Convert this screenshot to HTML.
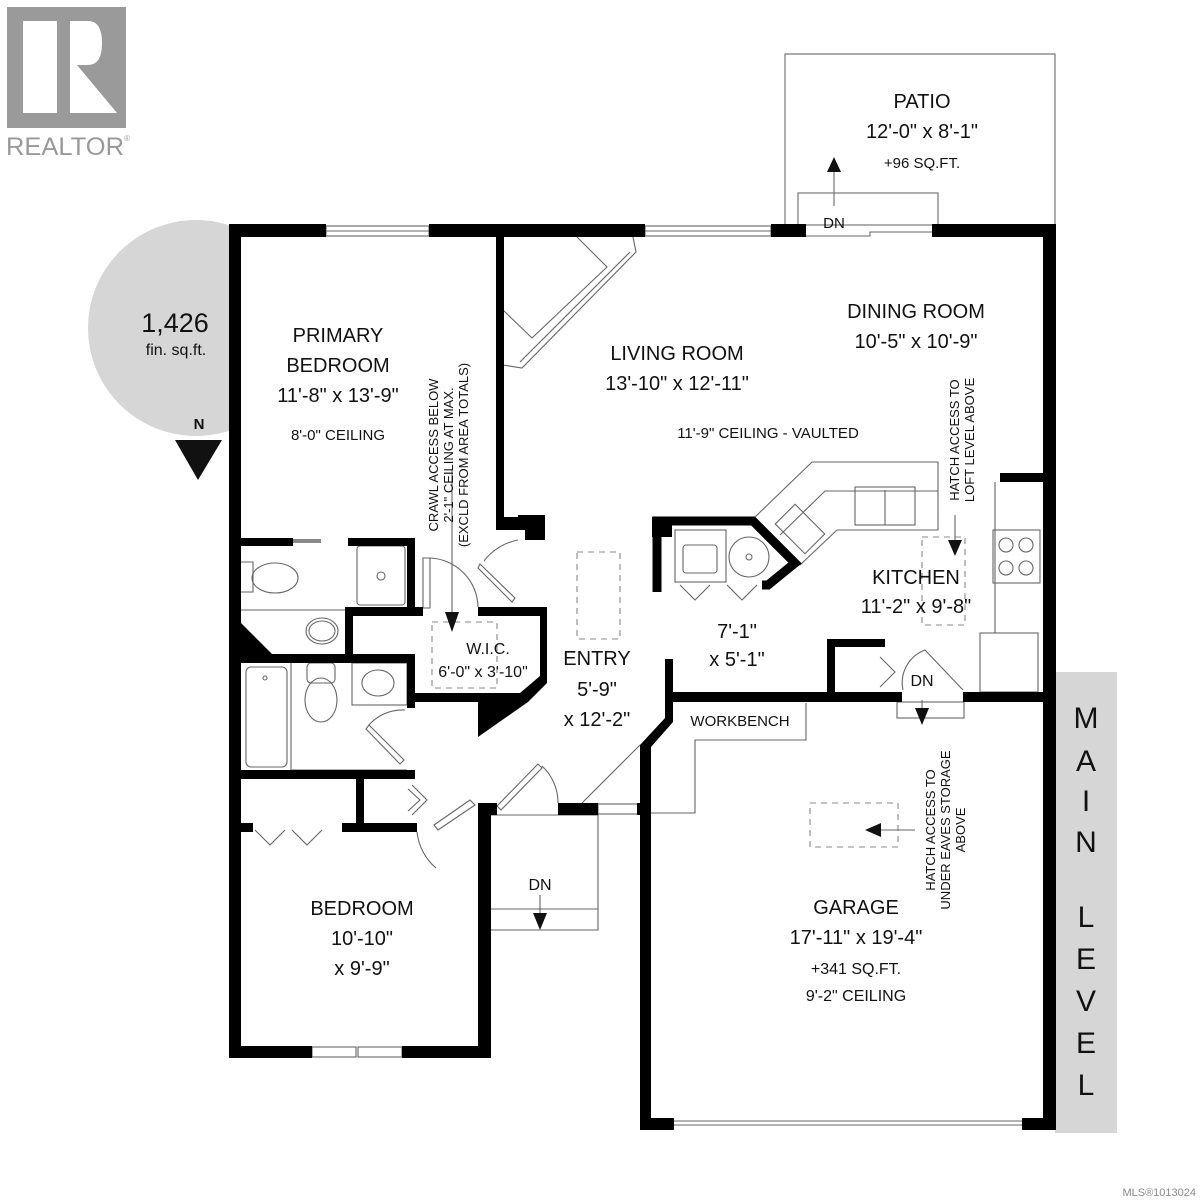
<!DOCTYPE html>
<html><head><meta charset="utf-8"><style>
html,body{margin:0;padding:0;background:#fff;}
svg{display:block;}
text{font-family:"Liberation Sans",sans-serif;fill:#111;}
</style></head><body>
<svg width="1200" height="1200" viewBox="0 0 1200 1200" xmlns="http://www.w3.org/2000/svg">
<!-- logo -->
<rect x="7" y="7" width="119" height="121" fill="#9a9a9a"/>
<rect x="23" y="21" width="34" height="92" fill="#fff"/>
<path d="M70 21 H88 Q102 21 102 43 Q102 65 88 65 H77 L117 113 H70 Z" fill="#fff"/>
<text x="6" y="155" font-size="25" style="fill:#999" textLength="118" lengthAdjust="spacingAndGlyphs">REALTOR</text>
<text x="124" y="141" font-size="8" style="fill:#999">®</text>

<!-- compass -->
<clipPath id="cl"><rect x="0" y="0" width="229" height="600"/></clipPath>
<circle cx="196" cy="328" r="108" fill="#d6d6d6" clip-path="url(#cl)"/>
<text x="175" y="332" font-size="27" text-anchor="middle">1,426</text>
<text x="176" y="355" font-size="16" text-anchor="middle">fin. sq.ft.</text>
<text x="199" y="429" font-size="15" font-weight="bold" text-anchor="middle">N</text>
<polygon points="175,440 222,440 198,480" fill="#111"/>

<!-- MAIN LEVEL strip -->
<rect x="1055" y="672" width="62" height="461" fill="#d6d6d6"/>
<g font-size="30" text-anchor="middle">
<text x="1086" y="728">M</text><text x="1086" y="771">A</text><text x="1086" y="811">I</text><text x="1086" y="852">N</text>
<text x="1086" y="927">L</text><text x="1086" y="969">E</text><text x="1086" y="1011">V</text><text x="1086" y="1053">E</text><text x="1086" y="1095">L</text>
</g>

<!-- patio -->
<g fill="none" stroke="#777" stroke-width="1.2">
<path d="M785 225 V54 H1055 V225"/>
<rect x="798" y="193" width="140" height="32"/>
<line x1="834" y1="206" x2="834" y2="170"/>
</g>
<polygon points="827,172 841,172 834,157" fill="#111"/>

<!-- thin fixtures -->
<g fill="none" stroke="#666" stroke-width="1.1">
<!-- windows -->
<rect x="326" y="226" width="103" height="10"/><line x1="326" y1="231" x2="429" y2="231"/>
<rect x="645" y="226" width="126" height="10"/><line x1="645" y1="231" x2="771" y2="231"/>
<path d="M806 236 H870 V232 H932"/>
<rect x="312" y="1047" width="44" height="10"/><rect x="358" y="1047" width="44" height="10"/>
<rect x="598" y="804" width="40" height="10"/>
<line x1="674" y1="1121" x2="1022" y2="1121"/><line x1="674" y1="1125" x2="1022" y2="1125"/>
<!-- fireplace -->
<path d="M503 310 L532 338 L607 267 L577 237"/>
<path d="M503 365 L522 368 L636 252 L633 237"/>
<path d="M520 362 L630 252"/>
<!-- bath fixtures -->
<line x1="293" y1="541" x2="321" y2="541" stroke-width="4" stroke="#888"/>
<rect x="357" y="546" width="48" height="59" rx="3"/><circle cx="381" cy="576" r="4"/>
<path d="M241 562 H253 V592 H241"/><ellipse cx="275" cy="578" rx="23" ry="15"/>
<line x1="241" y1="610" x2="345" y2="610"/>
<ellipse cx="322" cy="631" rx="16" ry="13"/><ellipse cx="322" cy="631" rx="13" ry="10"/>
<rect x="246" y="667" width="41" height="100" rx="5"/><circle cx="265" cy="678" r="2"/>
<line x1="291" y1="663" x2="291" y2="770"/>
<rect x="307" y="663" width="28" height="20" rx="4"/><ellipse cx="321" cy="700" rx="16" ry="22"/>
<rect x="352" y="663" width="55" height="42"/><ellipse cx="378" cy="683" rx="16" ry="13"/>
<line x1="291" y1="770" x2="407" y2="770"/>
<!-- doors -->
<path d="M423 558 L430 558 L430 608 L423 608 Z"/><path d="M430 558 A50 50 0 0 1 478 607"/>
<path d="M480 564 L515 598 L512 602 L478 568 Z"/><path d="M484 561 A55 55 0 0 1 518 540"/>
<path d="M369 725 L404 760 L400 764 L366 729 Z"/><path d="M369 725 A45 45 0 0 1 405 710"/>
<path d="M412 785 L427 800 L412 815 M408 789 L420 800 L408 811"/>
<path d="M434 825 L470 800 L475 805 L438 830 Z" /><path d="M417 832 A55 55 0 0 0 436 868"/>
<path d="M497 806 L538 764 L542 768 L501 810 Z"/><path d="M542 766 A50 50 0 0 1 558 803"/>
<path d="M255 830 L270 845 L285 830 M292 830 L307 845 L322 830"/>
<line x1="582" y1="803" x2="640" y2="745"/>
<!-- entry stair -->
<path d="M491 815 H598 V930 H491"/><line x1="491" y1="909" x2="598" y2="909"/>
<line x1="540" y1="895" x2="540" y2="915"/>
<!-- dashed -->
<g stroke-dasharray="6,5" stroke="#888">
<rect x="577" y="552" width="43" height="87"/>
<rect x="432" y="622" width="65" height="66"/>
<rect x="922" y="537" width="43" height="88"/>
<rect x="810" y="803" width="88" height="44"/>
</g>
<line x1="452" y1="470" x2="452" y2="615"/>
<line x1="955" y1="515" x2="955" y2="540"/>
<line x1="880" y1="830" x2="915" y2="830"/>
<line x1="922" y1="700" x2="922" y2="710"/>
<!-- laundry -->
<rect x="675" y="530" width="51" height="52"/><rect x="683" y="545" width="34" height="28" rx="3"/>
<circle cx="749" cy="557" r="20"/><circle cx="749" cy="557" r="3"/>
<path d="M680 585 L695 600 L710 585 M727 585 L742 600 L757 585"/>
<!-- counter -->
<path d="M755 517 L812 462 H938 V530 H837 L800 565 L770 540"/>
<path d="M780 535 L825 491 H938"/>
<rect x="786" y="508" width="28" height="42" transform="rotate(-45 800 529)"/>
<rect x="855" y="487" width="60" height="38"/><line x1="885" y1="490" x2="885" y2="525"/>
<rect x="993" y="530" width="47" height="53"/>
<circle cx="1006" cy="545" r="7"/><circle cx="1026" cy="545" r="7"/><circle cx="1006" cy="568" r="7"/><circle cx="1026" cy="568" r="7"/>
<line x1="995" y1="482" x2="995" y2="633"/>
<rect x="980" y="633" width="58" height="59"/>
<!-- kitchen stair -->
<path d="M880 657 L895 672 L880 687"/>
<path d="M903 690 A35 35 0 0 1 925 650 L963 690"/>
<rect x="897" y="702" width="67" height="16"/>
<!-- workbench -->
<path d="M806 703 V740 H695 V813 H651"/>
</g>
<polygon points="445,612 459,612 452,632" fill="#111"/>
<polygon points="948,540 962,540 955,556" fill="#111"/>
<polygon points="533,913 547,913 540,930" fill="#111"/>
<polygon points="915,708 929,708 922,725" fill="#111"/>
<polygon points="881,823 881,837 865,830" fill="#111"/>

<!-- walls -->
<g fill="#000">
<rect x="229" y="224" width="97" height="13"/>
<rect x="429" y="224" width="216" height="13"/>
<rect x="771" y="224" width="35" height="13"/>
<rect x="932" y="224" width="124" height="13"/>
<rect x="229" y="224" width="12" height="834"/>
<rect x="1043" y="224" width="13" height="906"/>
<rect x="229" y="1046" width="83" height="12"/><rect x="402" y="1046" width="89" height="12"/>
<rect x="478" y="803" width="13" height="255"/><rect x="478" y="803" width="19" height="12"/>
<rect x="558" y="803" width="40" height="12"/><rect x="637" y="803" width="14" height="12"/>
<rect x="496" y="237" width="8" height="286"/>
<polygon points="496,517 518,517 518,515 545,515 545,540 525,540 525,530 496,530"/>
<!-- bathroom -->
<rect x="241" y="538" width="52" height="8"/>
<rect x="348" y="538" width="67" height="8"/>
<rect x="407" y="538" width="8" height="70"/>
<rect x="345" y="607" width="78" height="9"/>
<rect x="345" y="607" width="8" height="55"/>
<rect x="241" y="654" width="174" height="9"/>
<polygon points="241,623 272,654 241,654"/>
<rect x="407" y="654" width="8" height="54"/>
<rect x="241" y="770" width="174" height="9"/>
<rect x="356" y="770" width="8" height="62"/>
<rect x="241" y="823" width="12" height="9"/><rect x="342" y="823" width="75" height="9"/>
<!-- wic -->
<rect x="478" y="607" width="69" height="9"/>
<polygon points="540,607 547,607 547,683 528,702 415,702 415,693 520,693 540,676"/>
<polygon points="478,702 528,702 478,737"/>
<!-- entry right / laundry -->
<rect x="665" y="659" width="8" height="44"/>
<path d="M657 592 V521 H753 L795 563 L768 585 H762" fill="none" stroke="#000" stroke-width="9"/>
<rect x="652" y="517" width="20" height="20"/>
<!-- kitchen -->
<rect x="1000" y="473" width="43" height="9"/>
<rect x="827" y="639" width="8" height="62"/>
<rect x="827" y="639" width="58" height="8"/>
<rect x="665" y="692" width="237" height="10"/>
<rect x="963" y="692" width="90" height="10"/>
<!-- garage -->
<polygon points="665,700 673,700 673,722 651,747 651,1130 640,1130 640,745 665,718"/>
<rect x="640" y="1118" width="34" height="12"/>
<rect x="1022" y="1118" width="34" height="12"/>
</g>

<!-- labels -->
<g text-anchor="middle" font-size="20">
<text x="922" y="108">PATIO</text>
<text x="922" y="138">12'-0" x 8'-1"</text>
<text x="922" y="168" font-size="15">+96 SQ.FT.</text>
<text x="834" y="228" font-size="15">DN</text>
<text x="916" y="318">DINING ROOM</text>
<text x="916" y="348">10'-5" x 10'-9"</text>
<text x="338" y="342">PRIMARY</text>
<text x="338" y="372">BEDROOM</text>
<text x="338" y="402">11'-8" x 13'-9"</text>
<text x="338" y="440" font-size="15">8'-0" CEILING</text>
<text x="677" y="360">LIVING ROOM</text>
<text x="677" y="390">13'-10" x 12'-11"</text>
<text x="768" y="438" font-size="15">11'-9" CEILING - VAULTED</text>
<text x="916" y="584">KITCHEN</text>
<text x="916" y="613">11'-2" x 9'-8"</text>
<text x="737" y="638">7'-1"</text>
<text x="737" y="666">x 5'-1"</text>
<text x="597" y="665">ENTRY</text>
<text x="597" y="696">5'-9"</text>
<text x="597" y="726">x 12'-2"</text>
<text x="488" y="654" font-size="16">W.I.C.</text>
<text x="483" y="677" font-size="16">6'-0" x 3'-10"</text>
<text x="740" y="726" font-size="15">WORKBENCH</text>
<text x="856" y="914">GARAGE</text>
<text x="856" y="944">17'-11" x 19'-4"</text>
<text x="856" y="974" font-size="16">+341 SQ.FT.</text>
<text x="856" y="1001" font-size="16">9'-2" CEILING</text>
<text x="540" y="890" font-size="16">DN</text>
<text x="922" y="686" font-size="16">DN</text>
<text x="362" y="915">BEDROOM</text>
<text x="362" y="945">10'-10"</text>
<text x="362" y="975">x 9'-9"</text>
</g>
<g text-anchor="middle" font-size="13">
<text transform="translate(438,455) rotate(-90)">CRAWL ACCESS BELOW</text>
<text transform="translate(453,455) rotate(-90)">2'-1" CEILING AT MAX.</text>
<text transform="translate(468,455) rotate(-90)">(EXCLD FROM AREA TOTALS)</text>
<text transform="translate(959,440) rotate(-90)">HATCH ACCESS TO</text>
<text transform="translate(974,440) rotate(-90)">LOFT LEVEL ABOVE</text>
<text transform="translate(935,830) rotate(-90)">HATCH ACCESS TO</text>
<text transform="translate(950,830) rotate(-90)">UNDER EAVES STORAGE</text>
<text transform="translate(965,830) rotate(-90)">ABOVE</text>
</g>
<text x="1196" y="1196" font-size="11" text-anchor="end" style="fill:#888">MLS®1013024</text>
</svg>
</body></html>
